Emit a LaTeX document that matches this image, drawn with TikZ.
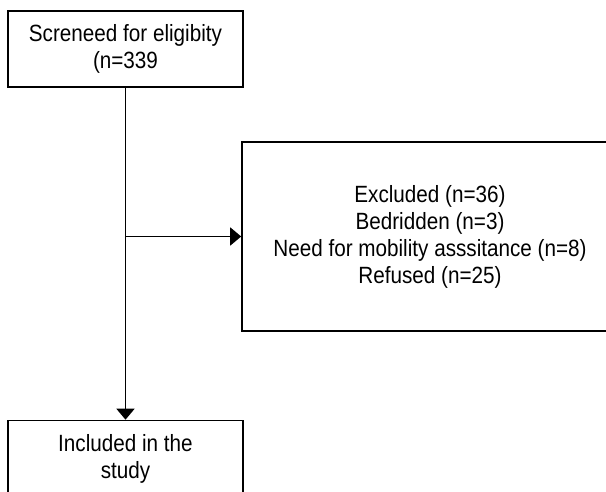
\documentclass[tikz,border=0pt]{standalone}
\usepackage{fontspec}
\setmainfont{Liberation Sans}[FakeStretch=0.88]
\usetikzlibrary{arrows.meta}
\tikzset{
  box/.style={draw=black, line width=1.6pt, rectangle, align=center, inner sep=0pt,
    font=\fontsize{23.5}{27}\selectfont},
  link/.style={draw=black, line width=1.6pt, -{Triangle[length=11pt,width=18pt]}}
}
\begin{document}
\begin{tikzpicture}[x=1pt,y=-1pt]
\useasboundingbox (0,0) rectangle (606,492);
\clip (0,0) rectangle (606,492);
\fill[white] (0,0) rectangle (606,492);
\node[box, minimum width=235pt, minimum height=76pt] (top) at (125.5,49) {Screneed for eligibity\\(n=339};
\node[box, minimum width=376pt, minimum height=189pt] (excl) at (430,236.5) {Excluded (n=36)\\Bedridden (n=3)\\Need for mobility asssitance (n=8)\\Refused (n=25)};
\node[box, minimum width=235pt, minimum height=76pt] (incl) at (125.5,458.5) {Included in the\\study};
\coordinate (junc) at (top.south |- excl.west);
\draw[link] (top.south) -- (incl.north);
\draw[link] (junc) -- (excl.west);
\end{tikzpicture}
\end{document}
